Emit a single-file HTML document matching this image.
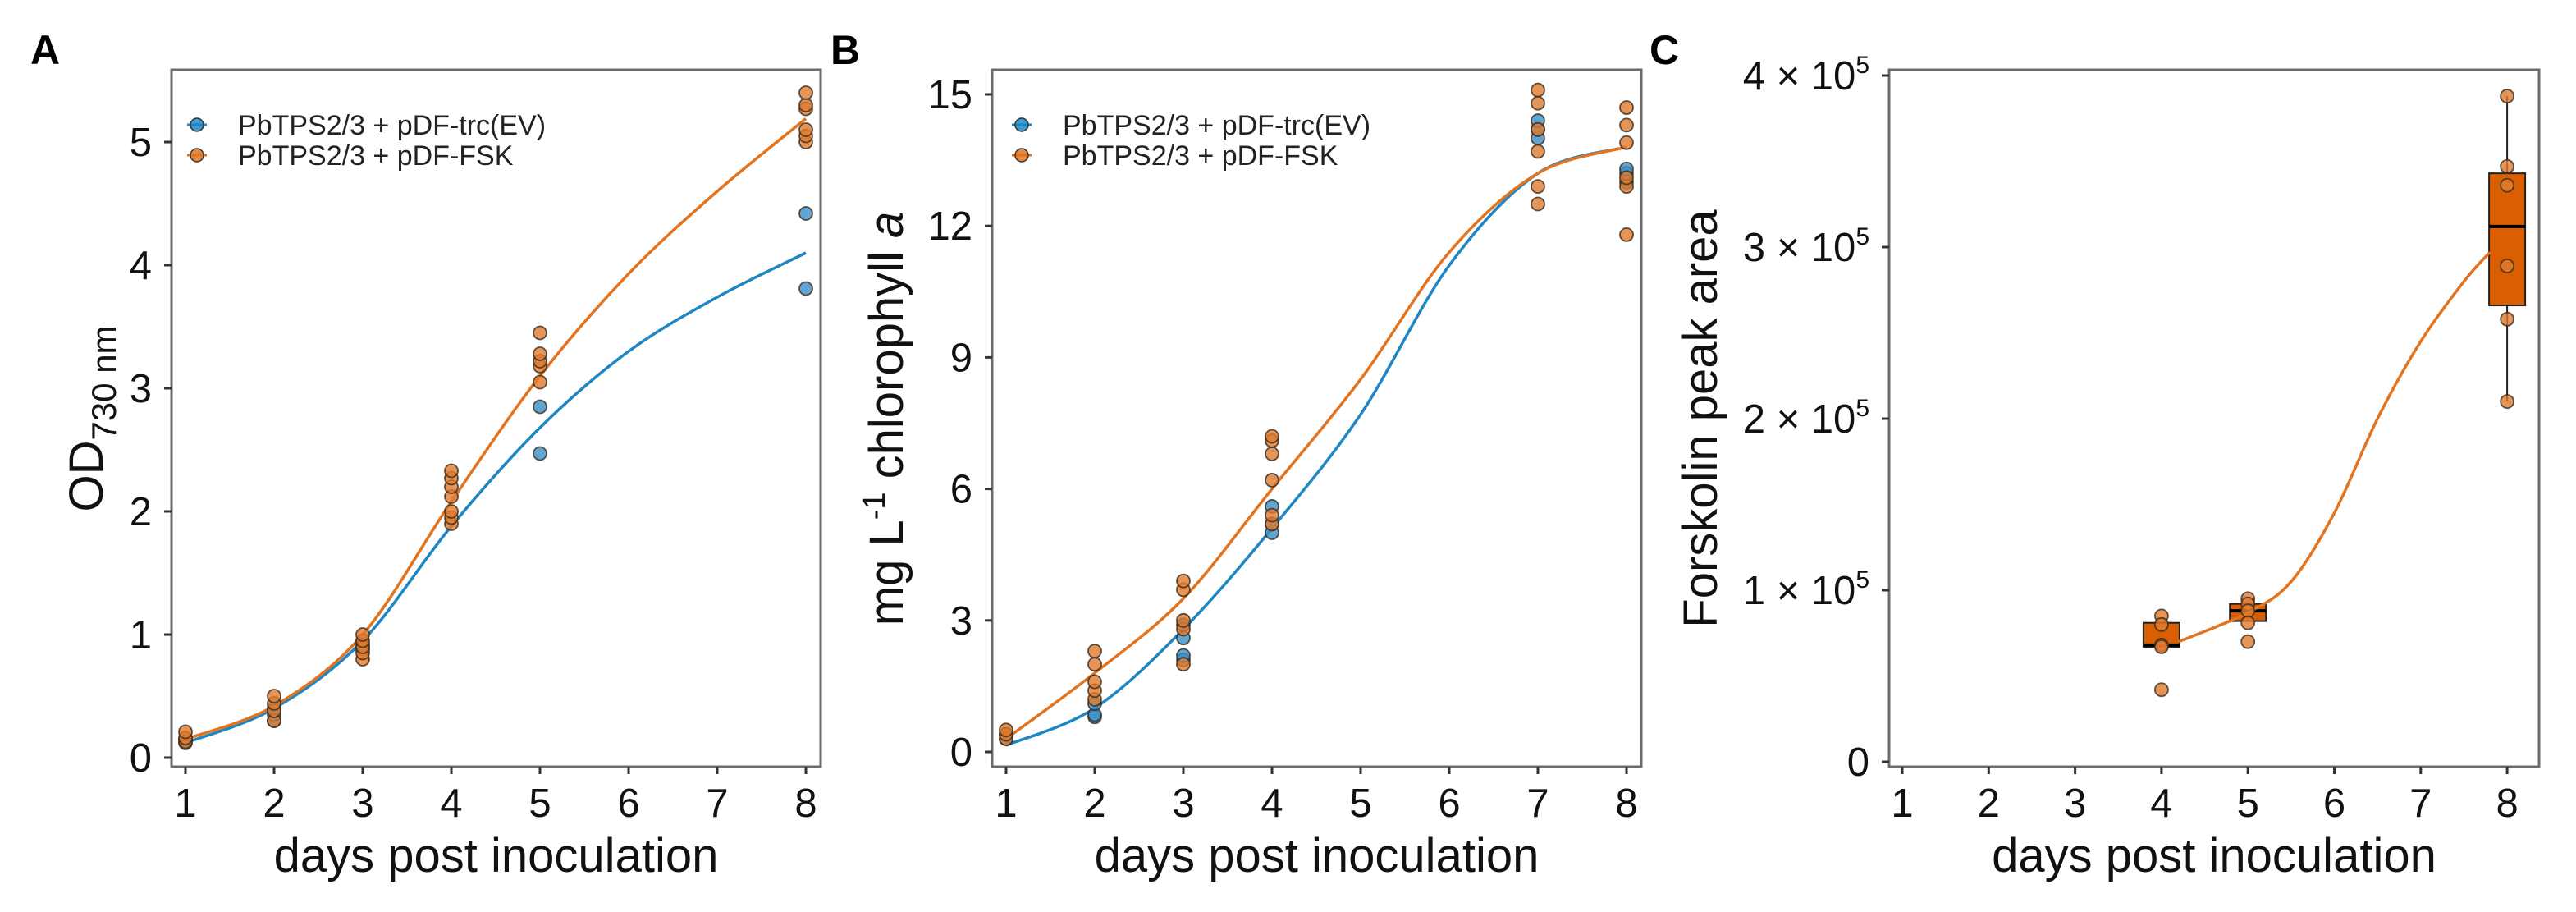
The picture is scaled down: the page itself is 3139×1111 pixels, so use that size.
<!DOCTYPE html>
<html><head><meta charset="utf-8"><style>
html,body{margin:0;padding:0;background:#fff;}
svg{display:block;font-family:"Liberation Sans",Arial,sans-serif;}
</style></head><body>
<svg id="fig" width="3139" height="1111" viewBox="0 0 3139 1111" xmlns="http://www.w3.org/2000/svg">
<g id="gA"></g>
<g id="gB"></g>
<g id="gC"></g>
</svg>
<script>
// ---- Panel A data (OD730) ----
const daysA = [1,2,3,4,5,8];
const evDaysA = [1,1,2,2,2,3,3,5,5,8,8];
const evValsA = [0.12,0.15,0.3,0.35,0.4,0.88,0.92,2.85,2.47,4.42,3.81];
const fskDaysA = [1,1,1,2,2,2,2,3,3,3,3,3,4,4,4,4,4,4,4,5,5,5,5,5,8,8,8,8,8,8];
const fskValsA = [0.13,0.16,0.21,0.3,0.38,0.44,0.5,0.8,0.85,0.9,0.95,1.0,1.9,1.95,2.0,2.12,2.2,2.27,2.33,3.05,3.18,3.22,3.28,3.45,5.0,5.05,5.1,5.27,5.3,5.4];
const curveDays = [1,2,3,4,5,6,7,8];
const evCurveA = [0.12,0.4,0.95,1.88,2.68,3.3,3.74,4.1];
const fskCurveA = [0.15,0.42,1.0,2.08,3.1,3.93,4.6,5.19];
const yTicksA = [0,1,2,3,4,5];
// ---- Panel B data (chlorophyll) ----
const evDaysB = [1,1,2,2,2,3,3,3,3,4,4,4,7,7,7,8,8,8];
const evValsB = [0.3,0.4,0.8,0.85,1.1,2.1,2.2,2.6,2.9,5.0,5.2,5.6,14.0,14.2,14.4,13.0,13.2,13.3];
const fskDaysB = [1,1,1,2,2,2,2,2,3,3,3,3,3,4,4,4,4,4,4,7,7,7,7,7,7,8,8,8,8,8,8];
const fskValsB = [0.3,0.4,0.5,1.2,1.4,1.6,2.0,2.3,2.0,2.8,3.0,3.7,3.9,5.2,5.4,6.2,6.8,7.1,7.2,12.5,12.9,13.7,14.2,14.8,15.1,11.8,12.9,13.1,13.9,14.3,14.7];
const evCurveB = [0.15,1.0,2.8,5.1,7.7,11.1,13.2,13.8];
const fskCurveB = [0.3,1.8,3.5,6.0,8.5,11.4,13.2,13.8];
const yTicksB = [0,3,6,9,12,15];
// ---- Panel C data (forskolin, units of 1e5) ----
const boxDaysC = [4,5,8];
const boxQ1 = [0.67,0.82,2.66];
const boxMed = [0.68,0.88,3.12];
const boxQ3 = [0.81,0.92,3.43];
const boxLo = [0.67,0.82,2.10];
const boxHi = [0.81,0.92,3.88];
const ptDaysC = [4,4,4,4,4,5,5,5,5,5,8,8,8,8,8,8];
const ptValsC = [0.85,0.80,0.68,0.67,0.42,0.95,0.92,0.88,0.81,0.70,3.88,3.47,3.36,2.89,2.58,2.10];
const curveDaysC = [4.2,5,5.5,6,6.5,7,7.5,7.8];
const curveValsC = [0.70,0.87,1.05,1.45,2.0,2.45,2.8,2.97];
const yTicksC = [0,1,2,3,4];
const xTicks = [1,2,3,4,5,6,7,8];

const NS='http://www.w3.org/2000/svg';
const BLUE='#1f86c4', ORANGE='#e2731f';
function mk(parent,tag,attrs,text){const e=document.createElementNS(NS,tag);for(const k in attrs)e.setAttribute(k,attrs[k]);if(text!==undefined)e.textContent=text;parent.appendChild(e);return e;}
function smooth(pts){let d='M'+pts[0][0]+','+pts[0][1];for(let i=0;i<pts.length-1;i++){const p0=pts[Math.max(0,i-1)],p1=pts[i],p2=pts[i+1],p3=pts[Math.min(pts.length-1,i+2)];const c1=[p1[0]+(p2[0]-p0[0])/6,p1[1]+(p2[1]-p0[1])/6],c2=[p2[0]-(p3[0]-p1[0])/6,p2[1]-(p3[1]-p1[1])/6];d+=' C'+c1[0]+','+c1[1]+' '+c2[0]+','+c2[1]+' '+p2[0]+','+p2[1];}return d;}

function frame(g,o){
  const r=mk(g,'rect',{x:o.L,y:o.T,width:o.R-o.L,height:o.B-o.T,fill:'none',stroke:'#6b6b6b','stroke-width':3});
  
  
  xTicks.forEach(t=>{const x=o.sx(t);
    const l=mk(g,'line',{x1:x,x2:x,y1:o.B,y2:o.B+9,stroke:'#333','stroke-width':3});
    
    
    const tx=mk(g,'text',{x:x,y:995,'font-size':49,'text-anchor':'middle',fill:'#111'},String(t));
    
    
  });
  o.yt.forEach(t=>{const y=o.sy(t);
    const l=mk(g,'line',{x1:o.L-9,x2:o.L,y1:y,y2:y,stroke:'#333','stroke-width':3});
    
    
    let tx;
    if(o.sci && t>0){tx=mk(g,'text',{x:o.L-24,y:y+17,'font-size':49,'text-anchor':'end',fill:'#111'});
      const a=mk(tx,'tspan',{},t+' \u00d7 10');const b=mk(tx,'tspan',{'font-size':30,dy:-20},'5');}
    else tx=mk(g,'text',{x:o.L-24,y:y+17,'font-size':49,'text-anchor':'end',fill:'#111'},String(t));
    
    
  });
  const xt=mk(g,'text',{x:(o.L+o.R)/2,y:1062,'font-size':58,'text-anchor':'middle',fill:'#111'},'days post inoculation');
  
  
  const pl=mk(g,'text',{x:o.lx,y:78,'font-size':50,'font-weight':'bold',fill:'#000'},o.letter);
  
  
}
function points(g,o,ds,vs,fill,name){ds.forEach((d,i)=>{const c=mk(g,'circle',{cx:o.sx(d),cy:o.sy(vs[i]),r:8,fill:fill,'fill-opacity':0.8,stroke:'#3a2a1a','stroke-opacity':0.8,'stroke-width':1.8});
  
  });}
function curve(g,o,ds,vs,col,name){const p=mk(g,'path',{d:smooth(ds.map((d,i)=>[o.sx(d),o.sy(vs[i])])),fill:'none',stroke:col,'stroke-width':3.5});
  
  }
function legend(g,x0,y0){[[BLUE,'PbTPS2/3 + pDF-trc(EV)'],[ORANGE,'PbTPS2/3 + pDF-FSK']].forEach((e,i)=>{const y=y0+i*37;
  const l=mk(g,'line',{x1:x0-12,x2:x0+12,y1:y,y2:y,stroke:e[0],'stroke-width':3});
  
  
  const c=mk(g,'circle',{cx:x0,cy:y,r:8,fill:e[0],'fill-opacity':0.85,stroke:'#333','stroke-width':1.5});
  
  
  const t=mk(g,'text',{x:x0+50,y:y+12,'font-size':34,fill:'#222'},e[1]);
  
  });}

// Panel A
const oA={L:209,R:1000,T:85,B:934,sx:d=>226+(d-1)*108,sy:v=>923-v*150,yt:yTicksA,lx:37,letter:'A'};
const gA=document.getElementById('gA');
frame(gA,oA);
const ytA=mk(gA,'text',{transform:'translate(125,510) rotate(-90)','font-size':58,'text-anchor':'middle',fill:'#111'});
mk(ytA,'tspan',{},'OD');mk(ytA,'tspan',{'font-size':42,dy:16},'730 nm');


curve(gA,oA,curveDays,evCurveA,BLUE,'ev-fit-line');
curve(gA,oA,curveDays,fskCurveA,ORANGE,'fsk-fit-line');
points(gA,oA,evDaysA,evValsA,'#3a8fc8','ev-point');
points(gA,oA,fskDaysA,fskValsA,'#e07a2e','fsk-point');
legend(gA,240,152);

// Panel B
const oB={L:1209,R:2000,T:85,B:934,sx:d=>1226+(d-1)*108,sy:v=>916-v*(801/15),yt:yTicksB,lx:1012,letter:'B'};
const gB=document.getElementById('gB');
frame(gB,oB);
const ytB=mk(gB,'text',{transform:'translate(1100,510) rotate(-90)','font-size':58,'text-anchor':'middle',fill:'#111'});
mk(ytB,'tspan',{},'mg L');mk(ytB,'tspan',{'font-size':38,dy:-22},'-1');mk(ytB,'tspan',{dy:22},' chlorophyll ');mk(ytB,'tspan',{'font-style':'italic'},'a');


curve(gB,oB,curveDays,evCurveB,BLUE,'ev-fit-line');
curve(gB,oB,curveDays,fskCurveB,ORANGE,'fsk-fit-line');
points(gB,oB,evDaysB,evValsB,'#3a8fc8','ev-point');
points(gB,oB,fskDaysB,fskValsB,'#e07a2e','fsk-point');
legend(gB,1245,152);

// Panel C
const oC={L:2302,R:3094,T:85,B:934,sx:d=>2318+(d-1)*105.3,sy:v=>928-v*209,yt:yTicksC,lx:2010,letter:'C',sci:true};
const gC=document.getElementById('gC');
frame(gC,oC);
const ytC=mk(gC,'text',{transform:'translate(2092,510) rotate(-90)','font-size':58,'text-anchor':'middle',fill:'#111'},'Forskolin peak area');


boxDaysC.forEach((d,i)=>{const x=oC.sx(d),w=44;
  const wl=mk(gC,'line',{x1:x,x2:x,y1:oC.sy(boxHi[i]),y2:oC.sy(boxLo[i]),stroke:'#222','stroke-width':2});
  
  
  const r=mk(gC,'rect',{x:x-w/2,y:oC.sy(boxQ3[i]),width:w,height:oC.sy(boxQ1[i])-oC.sy(boxQ3[i]),fill:'#d95f02',stroke:'#222','stroke-width':2});
  
  
  const m=mk(gC,'line',{x1:x-w/2,x2:x+w/2,y1:oC.sy(boxMed[i]),y2:oC.sy(boxMed[i]),stroke:'#000','stroke-width':4});
  
  
});
curve(gC,oC,curveDaysC,curveValsC,ORANGE,'fsk-fit-line');
points(gC,oC,ptDaysC,ptValsC,'#e07a2e','fsk-point');
</script>
</body></html>
